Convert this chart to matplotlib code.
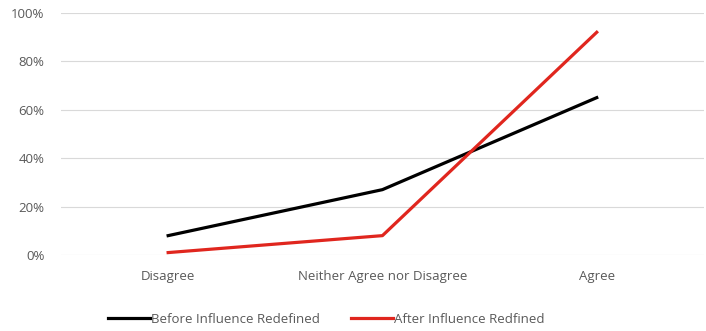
import matplotlib.pyplot as plt
from matplotlib.ticker import PercentFormatter

categories = ["Disagree", "Neither Agree nor Disagree", "Agree"]
before = [8, 27, 65]
after = [1, 8, 92]
yticks = [0, 20, 40, 60, 80, 100]

plt.rcParams["font.family"] = ["Open Sans", "DejaVu Sans"]
TXT = "#595959"

fig = plt.figure(figsize=(7.06, 3.31), dpi=100)
ax = fig.add_axes([0.0864, 0.2296, 0.9106, 0.7314])

x = range(len(categories))
ax.plot(x, before, color="#000000", linewidth=2.3, label="Before Influence Redefined")
ax.plot(x, after, color="#e0261e", linewidth=2.3, label="After Influence Redfined")

ax.set_xlim(-0.5, 2.5)
ax.set_ylim(0, 100)
ax.set_yticks(yticks)
ax.yaxis.set_major_formatter(PercentFormatter(decimals=0))
ax.set_xticks(list(x))
ax.set_xticklabels(categories)
ax.grid(axis="y", color="#d9d9d9", linewidth=0.8)
ax.set_axisbelow(True)
for s in ax.spines.values():
    s.set_visible(False)
ax.tick_params(axis="both", length=0, colors=TXT, labelsize=9.5)
ax.tick_params(axis="x", pad=11)
ax.tick_params(axis="y", pad=12)

fig.legend(loc="lower center", bbox_to_anchor=(0.462, -0.02), ncol=2, frameon=False,
           fontsize=9.5, labelcolor=TXT, handlelength=3.2, handletextpad=0.1,
           columnspacing=2.3)

fig.savefig("out.png", dpi=100)
